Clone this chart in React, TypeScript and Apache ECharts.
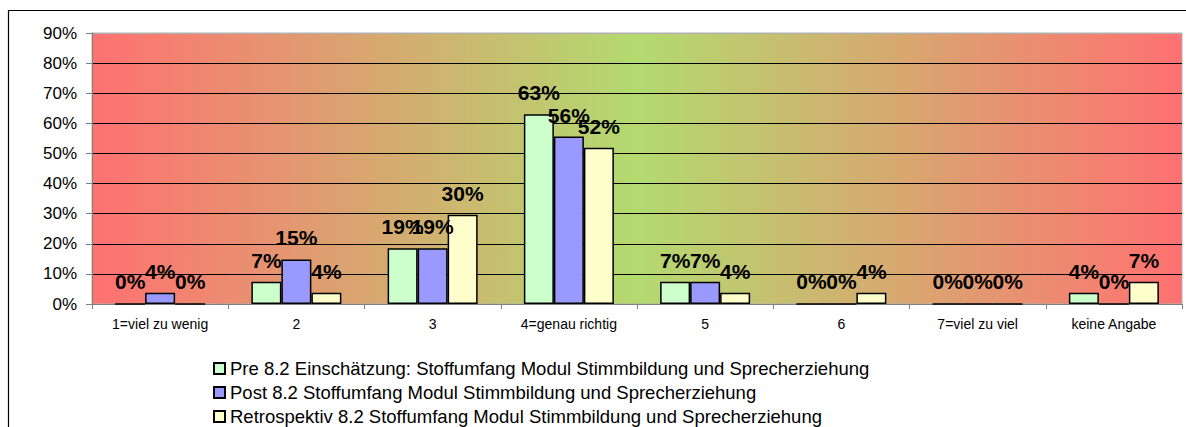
import React, { useEffect, useRef } from "react";
import * as echarts from "echarts";

const categories = ["1=viel zu wenig", "2", "3", "4=genau richtig", "5", "6", "7=viel zu viel", "keine Angabe"];
const seriesNames = [
  "Pre 8.2 Einschätzung: Stoffumfang Modul Stimmbildung und Sprecherziehung",
  "Post 8.2 Stoffumfang Modul Stimmbildung und Sprecherziehung",
  "Retrospektiv 8.2 Stoffumfang Modul Stimmbildung und Sprecherziehung",
];
const preValues = [0, 7.4, 18.5, 63.0, 7.4, 0, 0, 3.7];
const postValues = [3.7, 14.8, 18.5, 55.6, 7.4, 0, 0, 0];
const retroValues = [0, 3.7, 29.6, 51.9, 3.7, 3.7, 0, 7.4];
const seriesColors = ["#CCFFCC", "#9999FF", "#FFFFCC"];
const yTicks = [0, 10, 20, 30, 40, 50, 60, 70, 80, 90];

const FONT = "Arial, 'Liberation Sans', sans-serif";

export default function App() {
  const ref = useRef<HTMLDivElement>(null);
  useEffect(() => {
    if (!ref.current) return;
    const chart = echarts.init(ref.current, null, { renderer: "svg" });
    const values = [preValues, postValues, retroValues];
    const splitColors = yTicks.map((t, i) => (i === yTicks.length - 1 ? "#B0B0B0" : "#000000"));
    const legendTops = [354, 378, 402];
    chart.setOption({
      animation: false,
      backgroundColor: "#ffffff",
      textStyle: { fontFamily: FONT },
      graphic: [
        {
          type: "rect",
          shape: { x: 8.5, y: 10.5, width: 1200, height: 500 },
          style: { fill: "none", stroke: "#000000", lineWidth: 1.2 },
          z: 100,
        },
      ],
      grid: {
        left: 92,
        right: 4,
        top: 33,
        bottom: 123,
        show: true,
        borderColor: "#B0B0B0",
        borderWidth: 1,
        backgroundColor: {
          type: "linear",
          x: 0,
          y: 0,
          x2: 1,
          y2: 0,
          colorStops: [
            { offset: 0, color: "#FF7171" },
            { offset: 0.5, color: "#B3DA6F" },
            { offset: 1, color: "#FF7171" },
          ],
        },
      },
      legend: seriesNames.map((name, i) => ({
        orient: "vertical",
        left: 208,
        top: legendTops[i],
        itemWidth: 11,
        itemHeight: 11,
        itemGap: 0,
        icon: "rect",
        textStyle: { fontFamily: FONT, fontSize: 18.5, color: "#000" },
        data: [name],
      })),
      xAxis: {
        type: "category",
        data: categories,
        axisLine: { lineStyle: { color: "#808080", width: 1 } },
        axisTick: { show: true, length: 5, lineStyle: { color: "#808080" } },
        axisLabel: { fontFamily: FONT, fontSize: 14, color: "#000", margin: 13, interval: 0 },
      },
      yAxis: {
        type: "value",
        min: 0,
        max: 90,
        interval: 10,
        axisLine: { show: true, lineStyle: { color: "#808080", width: 1 } },
        axisTick: { show: true, length: 6, lineStyle: { color: "#808080" } },
        axisLabel: { fontFamily: FONT, fontSize: 17, color: "#000", margin: 15, formatter: "{value}%" },
        splitLine: { show: true, lineStyle: { color: splitColors, width: 1 } },
      },
      series: seriesNames.map((name, i) => ({
        name,
        type: "bar",
        data: values[i],
        barWidth: 30,
        barGap: "0%",
        itemStyle: { color: seriesColors[i], borderColor: "#000", borderWidth: 1.5 },
        label: {
          show: true,
          position: "top",
          distance: 11,
          fontFamily: FONT,
          fontSize: 21,
          fontWeight: "bold",
          color: "#000",
          formatter: (p: any) => Math.round(p.value) + "%",
        },
      })),
    });
    return () => chart.dispose();
  }, []);
  return (
    <div
      ref={ref}
      style={{ position: "fixed", left: 0, top: 0, width: 1186, height: 427 }}
    />
  );
}
